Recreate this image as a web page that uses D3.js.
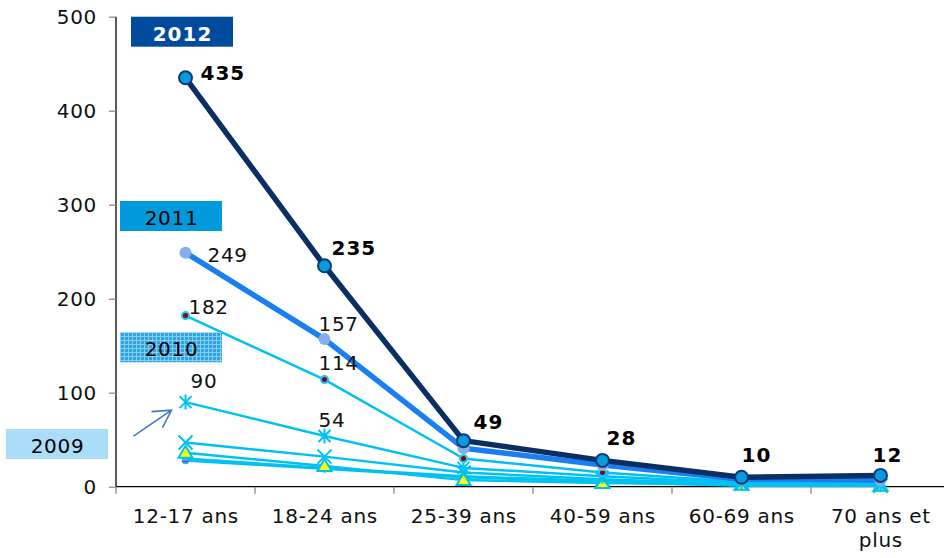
<!DOCTYPE html>
<html><head><meta charset="utf-8">
<script src="https://cdn.jsdelivr.net/npm/d3@7"></script>
<style>
html,body{margin:0;padding:0;background:#fff;}
svg{display:block;}
text{font-family:"DejaVu Sans",Verdana,sans-serif;}
</style></head>
<body><svg id="c" width="944" height="558"></svg>
<script>
// ---- DATA ----
const categories = ["12-17 ans","18-24 ans","25-39 ans","40-59 ans","60-69 ans","70 ans et plus"];
const s2012 = [435,235,49,28,10,12];
const s2011 = [249,157,41,23,8,7];
const s2010 = [182,114,30,15,5,4];
const s2009 = [90,54,20,11,4,2];
const s2008 = [47,32,15,8,3,1];
const s2007 = [36,22,7,4,2,1];
const s2006 = [30,20,11,6,2,1];
const s2005 = [28,19,10,5,1,1];
const yTicks = [0,100,200,300,400,500];
const labels2012 = [435,235,49,28,10,12];
const labels2011 = [249,157];
const labels2010 = [182,114];
const labels2009 = [90,54];
const legendNames = ["2012","2011","2010","2009"];

// ---- LAYOUT / STYLE ----
const FS = 20, LS = "0.7px", LSB = "1px";
const svg = d3.select("#c");
const x = d3.scaleBand().domain(categories).range([116,950]).padding(0);
const y = d3.scaleLinear().domain([0,500]).range([486.7,16.7]);
const cx = c => x(c) + x.bandwidth()/2;

const defs = svg.append("defs");
const pat = defs.append("pattern").attr("id","grid").attr("width",4).attr("height",4).attr("patternUnits","userSpaceOnUse");
pat.append("rect").attr("width",4).attr("height",4).attr("fill","#2ea4e2");
pat.append("path").attr("d","M0,0.5H4M0.5,0V4").attr("stroke","#86cdf3").attr("stroke-width",1);

// axes
const yAxis = svg.append("g").attr("transform","translate(116,0)")
  .call(d3.axisLeft(y).tickValues(yTicks).tickSize(7).tickPadding(12));
yAxis.select(".domain").attr("stroke","#000").attr("stroke-width",1.3).attr("d","M0,16.7V486.7");
yAxis.selectAll(".tick line").attr("stroke","#888").attr("stroke-width",1.3);
yAxis.selectAll(".tick text").attr("font-size",FS).attr("fill","#111").attr("letter-spacing",LS)
  .attr("font-family","'DejaVu Sans',Verdana,sans-serif");

const xg = svg.append("g").attr("transform","translate(0,486.7)");
xg.append("line").attr("x1",116).attr("x2",944).attr("stroke","#000").attr("stroke-width",1.3);
xg.selectAll("line.tk").data(categories).join("line").attr("class","tk")
  .attr("x1",d=>x(d)).attr("x2",d=>x(d)).attr("y1",0).attr("y2",7).attr("stroke","#888").attr("stroke-width",1.3);
xg.selectAll("text.lb").data(categories).join("text").attr("class","lb")
  .attr("text-anchor","middle").attr("font-size",FS).attr("fill","#111").attr("letter-spacing",LS)
  .each(function(d){
    const t = d3.select(this);
    const lines = d === "70 ans et plus" ? ["70 ans et","plus"] : [d];
    lines.forEach((l,i)=>t.append("tspan").attr("x",cx(d)+0.4).attr("y",36.5+i*24).text(l));
  });

// series
const line = d3.line().x((d,i)=>cx(categories[i])).y(d=>y(d));
const series = [
  {v:s2005, color:"#00c2f2", w:2.5, m:"dot"},
  {v:s2006, color:"#00c2f2", w:2.5, m:"dash"},
  {v:s2007, color:"#00c2f2", w:2.5, m:"tri"},
  {v:s2008, color:"#00c2f2", w:2.5, m:"x"},
  {v:s2009, color:"#00c2f2", w:2.5, m:"star"},
  {v:s2010, color:"#00c2f2", w:2.5, m:"red"},
  {v:s2011, color:"#1a80f2", w:5.5, m:"c11"},
  {v:s2012, color:"#0b2f62", w:5.5, m:"c12"}
];
series.forEach(s=>{
  svg.append("path").datum(s.v).attr("d",line).attr("fill","none")
    .attr("stroke",s.color).attr("stroke-width",s.w).attr("stroke-linejoin","round");
  const g = svg.append("g");
  s.v.forEach((v,i)=>{
    const px = cx(categories[i]), py = y(v);
    const mg = g.append("g").attr("transform",`translate(${px},${py})`);
    if(s.m==="c12") mg.append("circle").attr("r",6.5).attr("fill","#0a9ade").attr("stroke","#0b3a7a").attr("stroke-width",2);
    else if(s.m==="c11") mg.append("circle").attr("r",6).attr("fill","#86aee8");
    else if(s.m==="red") mg.append("circle").attr("r",3.5).attr("fill","#8a0010").attr("stroke","#1cc6f4").attr("stroke-width",2);
    else if(s.m==="star"){
      mg.append("path").attr("d","M-6,-6L6,6M-6,6L6,-6M0,-7.5V7.5").attr("stroke","#00c2f2").attr("stroke-width",2);
    }
    else if(s.m==="x"){
      mg.append("path").attr("d","M-7,-7L7,7M-7,7L7,-7").attr("stroke","#00c2f2").attr("stroke-width",2);
    }
    else if(s.m==="tri") mg.append("path").attr("d","M0,-7L7,5H-7Z").attr("fill","#ffff00").attr("stroke","#00c2f2").attr("stroke-width",2);
    else if(s.m==="dash") mg.append("path").attr("d","M-3,3H3").attr("stroke","#ff00cc").attr("stroke-width",1.5);
    else if(s.m==="dot") mg.append("circle").attr("r",3.5).attr("fill","#00e0e8").attr("stroke","#00c2f2").attr("stroke-width",1);
  });
});

// data labels
const off2012 = [[15,2],[7,-11],[10,-12],[4,-15],[0,-15],[-8,-13]];
const off2011 = [[22,9],[-6,-8]];
const off2010 = [[3,-2],[-6,-10]];
const off2009 = [[5,-14],[-6,-9]];
function addLabels(vals, offs, bold){
  vals.forEach((v,i)=>{
    const [dx,dy] = offs[i];
    svg.append("text").attr("x",cx(categories[i])+dx).attr("y",y(v)+dy)
      .attr("font-size",FS).attr("font-weight",bold?"bold":"normal")
      .attr("letter-spacing",bold?LSB:LS).attr("fill",bold?"#000":"#111").text(v);
  });
}
addLabels(labels2012, off2012, true);
addLabels(labels2011, off2011, false);
addLabels(labels2010, off2010, false);
addLabels(labels2009, off2009, false);

// legend boxes
const legend = [
  {name:legendNames[0], x:131, y:16.7, fill:"#004b9b", tc:"#fff", bold:true},
  {name:legendNames[1], x:120, y:201, fill:"#009ada", tc:"#000", bold:false},
  {name:legendNames[2], x:120, y:332.3, fill:"url(#grid)", tc:"#000", bold:false},
  {name:legendNames[3], x:6, y:429, fill:"#abdcf8", tc:"#000", bold:false}
];
legend.forEach(l=>{
  svg.append("rect").attr("x",l.x).attr("y",l.y).attr("width",102).attr("height",30).attr("fill",l.fill);
  svg.append("text").attr("x",l.x+51+0.5).attr("y",l.y+24).attr("text-anchor","middle")
    .attr("font-size",FS).attr("font-weight",l.bold?"bold":"normal")
    .attr("letter-spacing",l.bold?LSB:LS).attr("fill",l.tc).text(l.name);
});

// arrow annotation pointing at the 2009 series
const tipX = cx(categories[0]) - 14, tipY = y(s2009[0]) + 8;
svg.append("path").attr("d",`M${tipX-38},${tipY+26}L${tipX},${tipY}M${tipX-20},${tipY+1.5}L${tipX},${tipY}L${tipX-9},${tipY+17.5}`)
  .attr("fill","none").attr("stroke","#4a78c0").attr("stroke-width",1.6);
</script></body></html>
